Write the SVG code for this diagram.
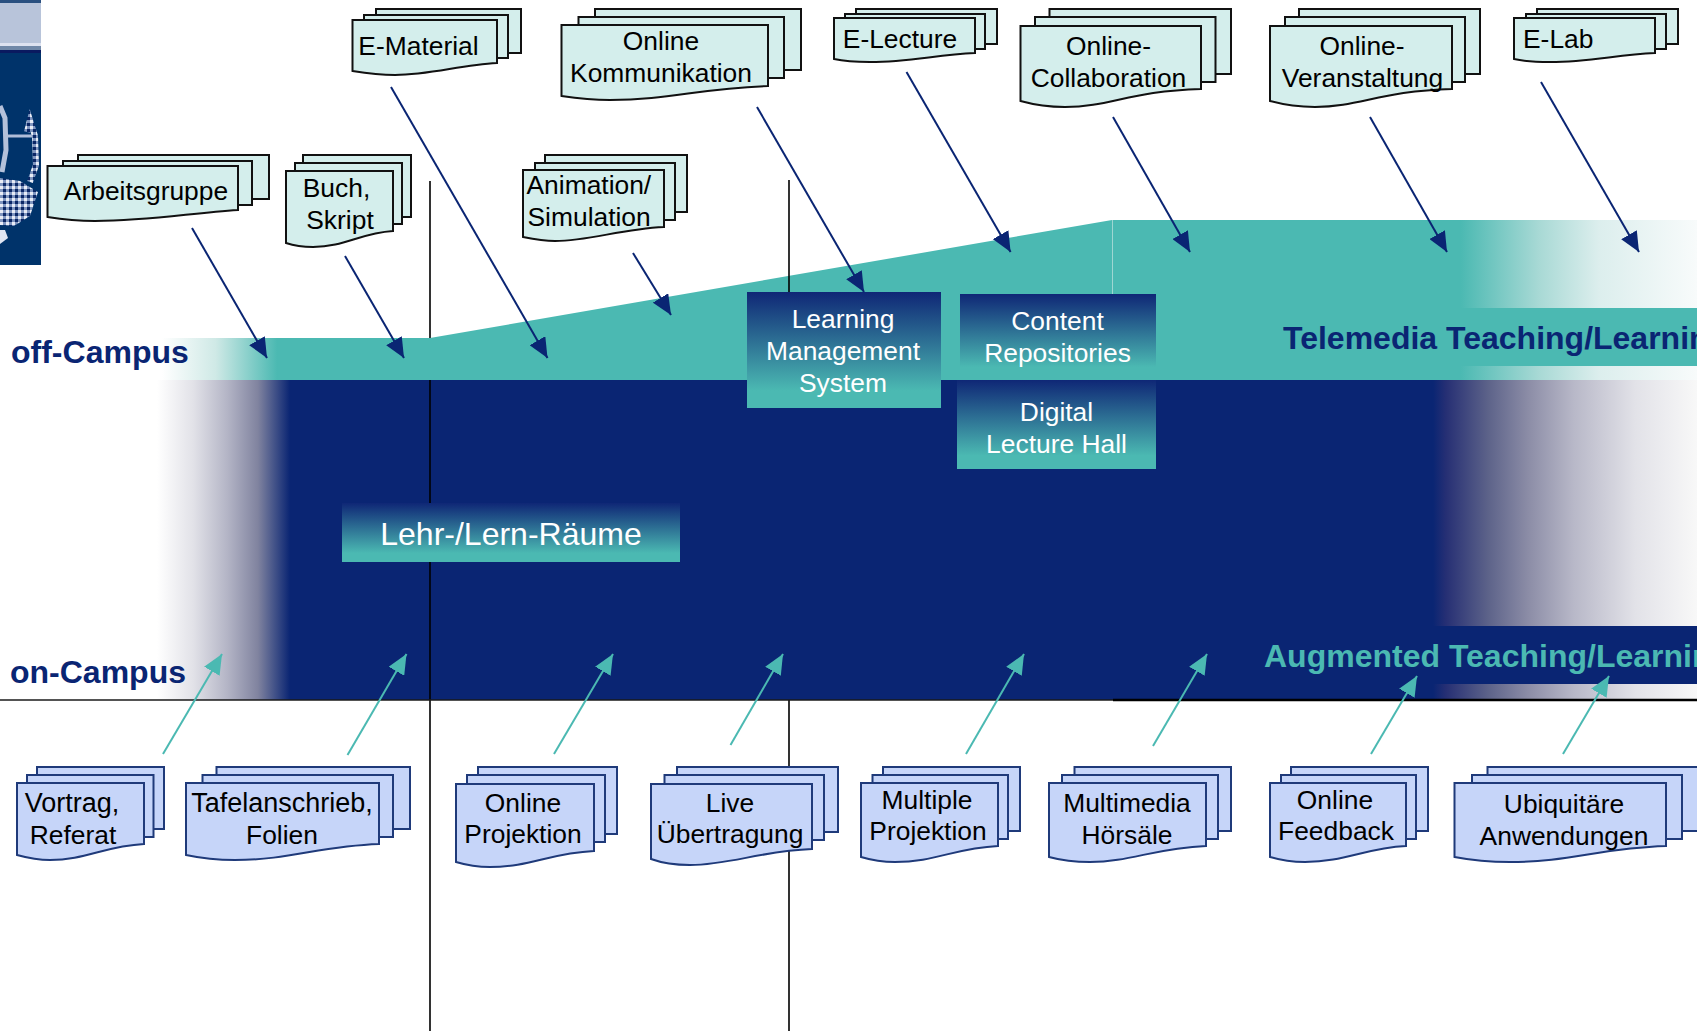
<svg xmlns="http://www.w3.org/2000/svg" width="1697" height="1031" viewBox="0 0 1697 1031">
<style>
text{font-family:"Liberation Sans",Arial,sans-serif;font-size:26.4px;fill:#000;text-anchor:middle}
.w{fill:#fff;font-size:26.4px}
.h{font-weight:bold;font-size:32px;text-anchor:start;fill:#0a2573}
.t rect,.t path{fill:#d4eeec;stroke:#111;stroke-width:2}
.b rect,.b path{fill:#c6d5f9;stroke:#1f3a7a;stroke-width:2}
.v{stroke:#000;stroke-width:1.6;fill:none}
.an{stroke:#0a2573;stroke-width:2;marker-end:url(#hn)}
.at{stroke:#4bb9b2;stroke-width:2;marker-end:url(#ht)}
</style>
<defs>
<linearGradient id="gn" gradientUnits="userSpaceOnUse" x1="157" y1="0" x2="1697" y2="0">
<stop offset="0" stop-color="#fff"/><stop offset="0.0234" stop-color="#e2e2e8"/><stop offset="0.0455" stop-color="#b4b5c6"/><stop offset="0.0656" stop-color="#80839f"/><stop offset="0.0864" stop-color="#0a2573"/><stop offset="0.8286" stop-color="#0a2573"/><stop offset="0.8370" stop-color="#262f74"/><stop offset="0.8640" stop-color="#5c6289"/><stop offset="0.8900" stop-color="#8b8ca6"/><stop offset="0.9200" stop-color="#b8b8c8"/><stop offset="0.9600" stop-color="#e2e2e8"/><stop offset="1" stop-color="#f8f8f8"/>
</linearGradient>
<linearGradient id="gt" gradientUnits="userSpaceOnUse" x1="162" y1="0" x2="1697" y2="0">
<stop offset="0" stop-color="#fff"/><stop offset="0.035" stop-color="#cfe9e6"/><stop offset="0.075" stop-color="#4bb9b2"/><stop offset="0.846" stop-color="#4bb9b2"/><stop offset="0.897" stop-color="#a8d9d5"/><stop offset="0.936" stop-color="#dceeed"/><stop offset="1" stop-color="#f8fbfb"/>
</linearGradient>
<linearGradient id="gb" x1="0" y1="0" x2="0" y2="1">
<stop offset="0" stop-color="#0f2776"/><stop offset="0.85" stop-color="#4bb9b2"/><stop offset="1" stop-color="#4bb9b2"/>
</linearGradient>
<marker id="hn" markerUnits="userSpaceOnUse" viewBox="0 0 20 18" refX="20" refY="9" markerWidth="20" markerHeight="18" orient="auto"><path d="M0 0L20 9L0 18z" fill="#0a2573"/></marker>
<marker id="ht" markerUnits="userSpaceOnUse" viewBox="0 0 20 18" refX="20" refY="9" markerWidth="20" markerHeight="18" orient="auto"><path d="M0 0L20 9L0 18z" fill="#4bb9b2"/></marker>
<pattern id="chk" patternUnits="userSpaceOnUse" width="6" height="6"><rect width="6" height="6" fill="#7f95bf"/><rect width="3" height="3" fill="#e8ecf6"/><rect x="3" y="3" width="3" height="3" fill="#0b2766"/></pattern>
</defs>

<g id="logo">
<rect x="0" y="0" width="41" height="265" fill="#00336a"/>
<rect x="0" y="0" width="41" height="3" fill="#2a5080"/>
<rect x="0" y="3" width="41" height="40" fill="#b8c4da"/>
<rect x="0" y="43" width="41" height="3" fill="#dde2f0"/>
<rect x="0" y="46" width="41" height="4" fill="#7088a8"/>
<rect x="0" y="50" width="41" height="3" fill="#0a1a60"/>
<path d="M0 106L5 118L6 150L2 172" fill="none" stroke="#b4c1da" stroke-width="5"/>
<path d="M8 136H36" fill="none" stroke="#b0bdd8" stroke-width="3"/>
<path d="M27 132L30 120L35 136L36 165L30 182" fill="none" stroke="url(#chk)" stroke-width="6"/>
<path d="M0 178L20 181L38 192L30 216L14 226L0 225z" fill="url(#chk)"/>
<path d="M0 230H5L8 238L0 244z" fill="#dfe5f2"/>
</g>

<g id="bands">
<rect id="navy-band" x="157" y="380" width="1540" height="320" fill="url(#gn)"/>
<path class="v" d="M430 181V1031M789 700V1031"/>
<path id="teal-band" d="M162 338H430L1112 220H1697V380H162z" fill="url(#gt)"/>
<path class="v" d="M789 180V292"/>
<path d="M1112.500 220V294" stroke="#9fd6d2" stroke-width="1" fill="none"/>
<rect x="1431" y="308" width="266" height="58" fill="#4bb9b2"/>
<rect x="1433" y="626" width="264" height="58" fill="#0a2573"/>
<path d="M0 700H1113" stroke="#1a1a1a" stroke-width="1.600" fill="none"/>
<path d="M1113 700H1697" stroke="#000" stroke-width="2.400" fill="none"/>
</g>

<text class="h" x="11" y="363">off-Campus</text>
<text class="h" x="10" y="683">on-Campus</text>
<text class="h" x="1283" y="349">Telemedia Teaching/Learning</text>
<text class="h" x="1264" y="667" style="fill:#4bb9b2">Augmented Teaching/Learning</text>

<g id="lms"><rect x="747" y="292" width="194" height="116" fill="url(#gb)"/><text class="w" x="843" y="328">Learning</text><text class="w" x="843" y="360">Management</text><text class="w" x="843" y="392">System</text></g>
<g id="content-repositories"><rect x="960" y="294" width="196" height="86" fill="url(#gb)"/><text class="w" x="1057.500" y="330">Content</text><text class="w" x="1057.500" y="362">Repositories</text></g>
<g id="digital-lecture-hall"><rect x="957" y="380" width="199" height="89" fill="url(#gb)"/><text class="w" x="1056.500" y="421">Digital</text><text class="w" x="1056.500" y="453">Lecture Hall</text></g>
<g id="lehr-lern-raeume"><rect x="342" y="503" width="338" height="59" fill="url(#gb)"/><text class="w" style="font-size:32px" x="511" y="545">Lehr-/Lern-Räume</text></g>

<g id="arbeitsgruppe" class="t"><rect x="78" y="155" width="191" height="44"/><rect x="63" y="161" width="189" height="44"/><path d="M47.500 166H238V210C190 213 150 221 95 221C75 221 60 219 47.500 217z"/><text x="146" y="200">Arbeitsgruppe</text></g>
<g id="buch-skript" class="t"><rect x="303" y="155" width="108" height="62"/><rect x="295" y="163" width="107" height="61"/><path d="M286 171H393V231C360 233 345 247 313 247C305 247 295 246 286 243z"/><text x="336.500" y="197">Buch,</text><text x="340" y="229">Skript</text></g>
<g id="e-material" class="t"><rect x="376" y="9" width="145" height="44"/><rect x="364" y="15" width="144" height="43"/><path d="M352.500 20H497V63C460 65 430 75 395 75C380 75 365 73 352.500 71z"/><text x="418.500" y="55">E-Material</text></g>
<g id="animation-simulation" class="t"><rect x="545" y="155" width="142" height="57"/><rect x="535" y="163" width="140" height="57"/><path d="M523 170H664V227C620 229 590 241 555 241C545 241 533 239 523 237z"/><text style="text-anchor:start" x="526.500" y="194">Animation/</text><text style="text-anchor:start" x="527.500" y="226">Simulation</text></g>
<g id="online-kommunikation" class="t"><rect x="595" y="9" width="206" height="61"/><rect x="578.500" y="17" width="205.500" height="61"/><path d="M561.500 25H768V86C700 88 670 100 610 100C590 100 575 98 561.500 96z"/><text x="661" y="50">Online</text><text x="661" y="82">Kommunikation</text></g>
<g id="e-lecture" class="t"><rect x="856" y="9" width="141" height="35"/><rect x="845" y="14" width="140" height="35"/><path d="M834 18H975V53C935 55 910 62 870 62C855 62 843 61 834 59z"/><text x="900" y="48">E-Lecture</text></g>
<g id="online-collaboration" class="t"><rect x="1049.500" y="9" width="181.500" height="65"/><rect x="1035" y="17" width="180.500" height="65"/><path d="M1020.500 26H1201V89C1130 91 1110 107 1065 107C1050 107 1035 105 1020.500 101z"/><text x="1108.500" y="55">Online-</text><text x="1108.500" y="87">Collaboration</text></g>
<g id="online-veranstaltung" class="t"><rect x="1299" y="9" width="181" height="65"/><rect x="1285" y="17" width="180" height="65"/><path d="M1270 26H1452V89C1380 91 1360 107 1315 107C1300 107 1285 105 1270 101z"/><text x="1362" y="55">Online-</text><text x="1362.500" y="87">Veranstaltung</text></g>
<g id="e-lab" class="t"><rect x="1537" y="9" width="141" height="35"/><rect x="1526" y="14" width="140" height="35"/><path d="M1514 18H1655V53C1615 55 1590 62 1550 62C1535 62 1523 61 1514 59z"/><text style="text-anchor:start" x="1523" y="48">E-Lab</text></g>

<g id="vortrag-referat" class="b"><rect x="37" y="767" width="127" height="62"/><rect x="27" y="775" width="126.500" height="62"/><path d="M17 783H144V844C105 846 85 860 50 860C40 860 28 858 17 855z"/><text style="font-size:27px" x="72" y="812">Vortrag,</text><text x="73" y="844">Referat</text></g>
<g id="tafelanschrieb-folien" class="b"><rect x="216.500" y="767" width="193.500" height="62"/><rect x="202.500" y="775" width="190.500" height="62"/><path d="M186 783H379V844C320 846 290 860 235 860C215 860 200 858 186 855z"/><text style="font-size:27px" x="282" y="812">Tafelanschrieb,</text><text x="282" y="844">Folien</text></g>
<g id="online-projektion" class="b"><rect x="478" y="767" width="139" height="67"/><rect x="467" y="775" width="138" height="67"/><path d="M456 784H594V851C550 853 530 867 490 867C478 867 466 865 456 862z"/><text x="523" y="812">Online</text><text x="523" y="843">Projektion</text></g>
<g id="live-uebertragung" class="b"><rect x="677" y="767" width="161" height="65"/><rect x="664.500" y="775" width="159.500" height="65"/><path d="M651 784H812V849C760 851 730 865 690 865C675 865 662 863 651 859z"/><text x="730" y="812">Live</text><text x="730" y="843">Übertragung</text></g>
<g id="multiple-projektion" class="b"><rect x="883" y="767" width="137" height="64"/><rect x="872.500" y="775" width="135.500" height="64"/><path d="M861 783H998V846C955 848 935 862 895 862C883 862 871 860 861 857z"/><text x="927" y="809">Multiple</text><text x="928" y="840">Projektion</text></g>
<g id="multimedia-hoersaele" class="b"><rect x="1074.500" y="767" width="156.500" height="64"/><rect x="1062" y="775" width="156" height="64"/><path d="M1049 783H1206V846C1155 848 1130 862 1090 862C1075 862 1060 860 1049 857z"/><text x="1127" y="812">Multimedia</text><text x="1127" y="844">Hörsäle</text></g>
<g id="online-feedback" class="b"><rect x="1291" y="767" width="137" height="64"/><rect x="1281" y="775" width="135" height="64"/><path d="M1270 783H1406V846C1365 848 1345 862 1305 862C1293 862 1280 860 1270 857z"/><text x="1335" y="809">Online</text><text x="1336" y="840">Feedback</text></g>
<g id="ubiquitaere-anwendungen" class="b"><rect x="1487.500" y="767" width="214" height="64"/><rect x="1472" y="775" width="210" height="64"/><path d="M1454.500 783H1666V846C1600 848 1570 862 1510 862C1490 862 1470 860 1454.500 857z"/><text x="1564" y="813">Ubiquitäre</text><text x="1564" y="845">Anwendungen</text></g>

<g id="connectors">
<line class="an" x1="192" y1="228" x2="267" y2="358"/>
<line class="an" x1="345" y1="256" x2="404" y2="358"/>
<line class="an" x1="391" y1="87" x2="547.500" y2="358"/>
<line class="an" x1="633" y1="253" x2="671" y2="315"/>
<line class="an" x1="757" y1="107" x2="864" y2="292"/>
<line class="an" x1="906.500" y1="72" x2="1010.600" y2="252"/>
<line class="an" x1="1113" y1="117" x2="1190" y2="252"/>
<line class="an" x1="1370" y1="117" x2="1447" y2="252"/>
<line class="an" x1="1541" y1="82" x2="1639" y2="252"/>
<line class="at" x1="163" y1="754" x2="222" y2="654"/>
<line class="at" x1="347.500" y1="755" x2="406.500" y2="654"/>
<line class="at" x1="554" y1="754" x2="613" y2="654"/>
<line class="at" x1="730.500" y1="745" x2="783" y2="654"/>
<line class="at" x1="966" y1="754" x2="1024" y2="654"/>
<line class="at" x1="1153" y1="746" x2="1207" y2="654"/>
<line class="at" x1="1371" y1="754" x2="1417" y2="676"/>
<line class="at" x1="1563" y1="754" x2="1609" y2="676"/>
</g>
</svg>
